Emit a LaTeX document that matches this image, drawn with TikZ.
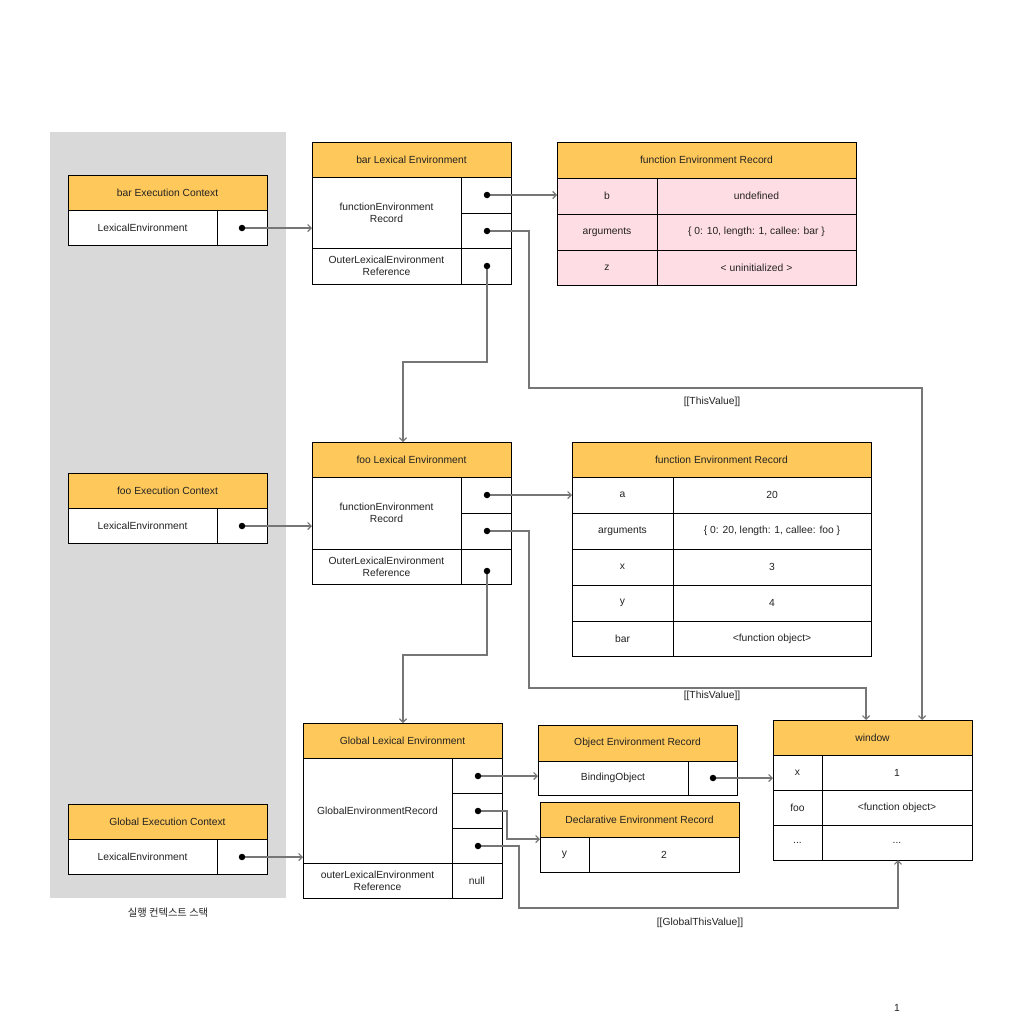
\documentclass[tikz,border=0pt]{standalone}
\usepackage{fontspec}
\setmainfont{Liberation Sans}
\newfontfamily\krfont{Noto Sans CJK KR}
\usetikzlibrary{arrows.meta}
\definecolor{hdr}{RGB}{255,200,90}
\definecolor{pinkrow}{RGB}{255,221,228}
\definecolor{stackgray}{RGB}{217,217,217}
\definecolor{wire}{RGB}{118,118,118}
\definecolor{ink}{RGB}{34,34,34}
\newcommand\fs{\fontsize{10.3}{12.2}\selectfont}
% \rc{name}{x1}{y1}{x2}{y2}{style}{text}: a cell spanning the given corners
\newcommand\rc[7]{\node[cell,#6,minimum width={(#4-#2)*1pt},minimum height={(#5-#3)*1pt}] (#1) at ({(#2+#4)/2},{(#3+#5)/2}) {#7};}
\tikzset{
  cell/.style={draw=black, line width=1pt, inner sep=0pt, outer sep=0pt, align=center, font=\fs, text=ink, fill=white},
  head/.style={fill=hdr},
  pink/.style={fill=pinkrow},
  dot/.style={circle, fill=black, inner sep=0pt, minimum size=6.5pt},
  conn/.style={draw=wire, line width=1.2pt, -{Straight Barb[length=3.5pt,width=7pt]}},
  lbl/.style={font=\fs, text=ink, inner sep=0pt},
}
\begin{document}
\begin{tikzpicture}[x=1pt,y=-1pt]
\useasboundingbox (0,0) rectangle (1023,1020);
\fill[white] (0,0) rectangle (1023,1020);

% execution context stack
\rc{stack}{50}{132}{286}{898}{draw=none,fill=stackgray}{}
\node[lbl] (stacklbl) at (168,913) {\krfont 실행 컨텍스트 스택};

% execution contexts
\rc{barEC}{68}{175}{267}{210}{head}{bar Execution Context}
\rc{barECl}{68}{210}{217}{245}{}{LexicalEnvironment}
\rc{barECr}{217}{210}{267}{245}{}{}
\rc{fooEC}{68}{473}{267}{508}{head}{foo Execution Context}
\rc{fooECl}{68}{508}{217}{543}{}{LexicalEnvironment}
\rc{fooECr}{217}{508}{267}{543}{}{}
\rc{gEC}{68}{804}{267}{839}{head}{Global Execution Context}
\rc{gECl}{68}{839}{217}{874}{}{LexicalEnvironment}
\rc{gECr}{217}{839}{267}{874}{}{}

% bar lexical environment
\rc{barLE}{312}{142}{511}{177}{head}{bar Lexical Environment}
\rc{barLEr}{312}{177}{461}{248}{}{functionEnvironment\\Record}
\rc{barLEa}{461}{177}{511}{213}{}{}
\rc{barLEb}{461}{213}{511}{248}{}{}
\rc{barLEo}{312}{248}{461}{284}{}{OuterLexicalEnvironment\\Reference}
\rc{barLEc}{461}{248}{511}{284}{}{}

% bar function environment record
\rc{barFER}{557}{142}{856}{178}{head}{function Environment Record}
\rc{barFERk1}{557}{178}{657}{214}{pink}{b}
\rc{barFERv1}{657}{178}{856}{214}{pink}{undefined}
\rc{barFERk2}{557}{214}{657}{250}{pink}{arguments}
\rc{barFERv2}{657}{214}{856}{250}{pink}{\{ 0: 10, length: 1, callee: bar \}}
\rc{barFERk3}{557}{250}{657}{285}{pink}{z}
\rc{barFERv3}{657}{250}{856}{285}{pink}{< uninitialized >}

% foo lexical environment
\rc{fooLE}{312}{442}{511}{477}{head}{foo Lexical Environment}
\rc{fooLEr}{312}{477}{461}{549}{}{functionEnvironment\\Record}
\rc{fooLEa}{461}{477}{511}{513}{}{}
\rc{fooLEb}{461}{513}{511}{549}{}{}
\rc{fooLEo}{312}{549}{461}{584}{}{OuterLexicalEnvironment\\Reference}
\rc{fooLEc}{461}{549}{511}{584}{}{}

% foo function environment record
\rc{fooFER}{572}{442}{871}{477}{head}{function Environment Record}
\rc{fooFERk1}{572}{477}{673}{513}{}{a}
\rc{fooFERv1}{673}{477}{871}{513}{}{20}
\rc{fooFERk2}{572}{513}{673}{549}{}{arguments}
\rc{fooFERv2}{673}{513}{871}{549}{}{\{ 0: 20, length: 1, callee: foo \}}
\rc{fooFERk3}{572}{549}{673}{585}{}{x}
\rc{fooFERv3}{673}{549}{871}{585}{}{3}
\rc{fooFERk4}{572}{585}{673}{621}{}{y}
\rc{fooFERv4}{673}{585}{871}{621}{}{4}
\rc{fooFERk5}{572}{621}{673}{656}{}{bar}
\rc{fooFERv5}{673}{621}{871}{656}{}{<function object>}

% global lexical environment
\rc{gLE}{303}{723}{502}{758}{head}{Global Lexical Environment}
\rc{gLEr}{303}{758}{452}{863}{}{GlobalEnvironmentRecord}
\rc{gLEa}{452}{758}{502}{793}{}{}
\rc{gLEb}{452}{793}{502}{828}{}{}
\rc{gLEc}{452}{828}{502}{863}{}{}
\rc{gLEo}{303}{863}{452}{898}{}{outerLexicalEnvironment\\Reference}
\rc{gLEn}{452}{863}{502}{898}{}{null}

% object environment record
\rc{objER}{538}{725}{737}{761}{head}{Object Environment Record}
\rc{objERk}{538}{761}{688}{795}{}{BindingObject}
\rc{objERv}{688}{761}{737}{795}{}{}

% declarative environment record
\rc{decER}{540}{802}{739}{837}{head}{Declarative Environment Record}
\rc{decERk}{540}{837}{589}{872}{}{y}
\rc{decERv}{589}{837}{739}{872}{}{2}

% global object
\rc{win}{773}{720}{972}{755}{head}{window}
\rc{wink1}{773}{755}{822}{790}{}{x}
\rc{winv1}{822}{755}{972}{790}{}{1}
\rc{wink2}{773}{790}{822}{825}{}{foo}
\rc{winv2}{822}{790}{972}{825}{}{<function object>}
\rc{wink3}{773}{825}{822}{860}{}{...}
\rc{winv3}{822}{825}{972}{860}{}{...}

% reference dot positions
\coordinate (dBarEC) at (242,228);
\coordinate (dFooEC) at (242,526);
\coordinate (dGEC) at (242,857);
\coordinate (dBarA) at (487,195);
\coordinate (dBarB) at (487,231);
\coordinate (dBarC) at (487,266);
\coordinate (dFooA) at (487,495);
\coordinate (dFooB) at (487,531);
\coordinate (dFooC) at (487,571);
\coordinate (dGA) at (478,776);
\coordinate (dGB) at (478,811);
\coordinate (dGC) at (478,846);
\coordinate (dObj) at (713,778);

% bend points of the routed connectors
\coordinate (tvBar) at (529,388);
\coordinate (tvFoo) at (529,688);
\coordinate (outBar) at (403,362);
\coordinate (outFoo) at (403,655);
\coordinate (decBend) at (507,839);
\coordinate (gtvBend) at (519,908);
\coordinate (winT1) at (922,720);
\coordinate (winT2) at (866,720);
\coordinate (winB) at (898,860);

% connectors
\draw[conn] (dBarEC) -- (dBarEC -| barLEr.west);
\draw[conn] (dFooEC) -- (dFooEC -| fooLEr.west);
\draw[conn] (dGEC) -- (dGEC -| gLEr.west);
\draw[conn] (dBarA) -- (dBarA -| barFERk1.west);
\draw[conn] (dFooA) -- (dFooA -| fooFERk1.west);
\draw[conn] (dGA) -- (dGA -| objERk.west);
\draw[conn] (dObj) -- (dObj -| wink1.west);
\draw[conn] (dBarB) -| (tvBar) -| (winT1);
\draw[conn] (dFooB) -| (tvFoo) -| (winT2);
\draw[conn] (dBarC) |- (outBar) -- (outBar |- fooLE.north);
\draw[conn] (dFooC) |- (outFoo) -- (outFoo |- gLE.north);
\draw[conn] (dGB) -| (decBend) -- (decBend -| decERk.west);
\draw[conn] (dGC) -| (gtvBend) -| (winB);

% dots on top of the connector tails
\foreach \d in {dBarEC,dFooEC,dGEC,dBarA,dBarB,dBarC,dFooA,dFooB,dFooC,dGA,dGB,dGC,dObj}
  \node[dot] (\d-dot) at (\d) {};

% connector labels
\node[lbl] (tvBarLbl) at (712,402) {[[ThisValue]]};
\node[lbl] (tvFooLbl) at (712,696) {[[ThisValue]]};
\node[lbl] (gtvLbl) at (700,923) {[[GlobalThisValue]]};

% page number
\node[lbl] (pageno) at (897,1008) {1};
\end{tikzpicture}
\end{document}
